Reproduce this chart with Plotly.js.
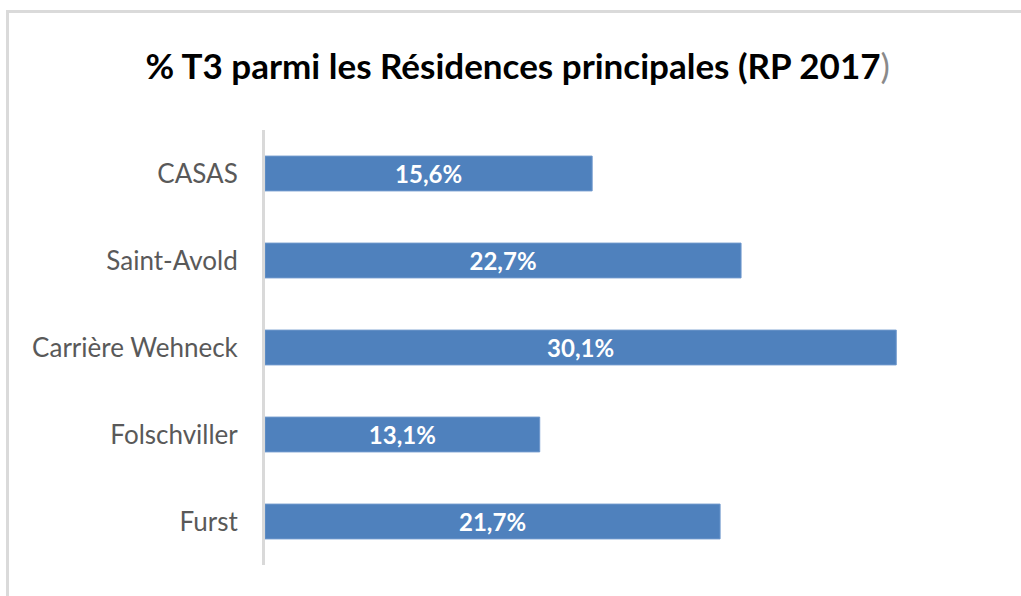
<!DOCTYPE html>
<html>
<head>
<meta charset="utf-8">
<script src="https://cdn.plot.ly/plotly-3.0.1.min.js"></script>
<style>
  html, body { margin: 0; padding: 0; background: #ffffff; }
  #wrap { position: relative; width: 1021px; height: 596px; overflow: hidden; }
  #chart { width: 1021px; height: 596px; }
  #frame { position: absolute; left: 6px; top: 10px; width: 1100px; height: 700px;
           border-top: 3px solid #dadada; border-left: 3px solid #dadada; pointer-events: none; }
</style>
</head>
<body>
<div id="wrap">
  <div id="chart"></div>
  <div id="frame"></div>
</div>
<script>
const categories = ["CASAS", "Saint-Avold", "Carrière Wehneck", "Folschviller", "Furst"];
const values = [15.6, 22.7, 30.1, 13.1, 21.7];
const chartTitle = '% T3 parmi les Résidences principales (RP 2017<span style="font-weight:normal;color:#8a8a8a">)</span>';

const trace = {
  type: 'bar',
  orientation: 'h',
  y: categories,
  x: values,
  width: 0.4,
  marker: { color: '#4f81bd', line: { color: '#6d97cc', width: 1 } },
  texttemplate: '%{x:.1f}%',
  textposition: 'inside',
  insidetextanchor: 'middle',
  textangle: 0,
  textfont: { family: 'Lato, sans-serif', size: 25, color: '#ffffff', weight: 'bold' },
  hoverinfo: 'skip'
};

const layout = {
  width: 1021,
  height: 596,
  separators: ',.',
  paper_bgcolor: '#ffffff',
  plot_bgcolor: '#ffffff',
  margin: { l: 265, r: 22, t: 130, b: 31 },
  showlegend: false,
  title: {
    text: chartTitle,
    font: { family: 'Lato, sans-serif', size: 35, color: '#000000', weight: 'bold' },
    xref: 'container', yref: 'container',
    x: 0.507, xanchor: 'center',
    y: 0.888, yanchor: 'middle'
  },
  xaxis: {
    range: [0, 35],
    visible: false,
    showgrid: false,
    zeroline: false,
    fixedrange: true
  },
  yaxis: {
    autorange: 'reversed',
    showline: true,
    linecolor: '#d9d9d9',
    linewidth: 3,
    showgrid: false,
    zeroline: false,
    ticks: '',
    ticklabelstandoff: 19,
    tickfont: { family: 'Lato, sans-serif', size: 26, color: '#595959' },
    fixedrange: true
  }
};

Plotly.newPlot('chart', [trace], layout, { displayModeBar: false, staticPlot: true });
</script>
</body>
</html>
